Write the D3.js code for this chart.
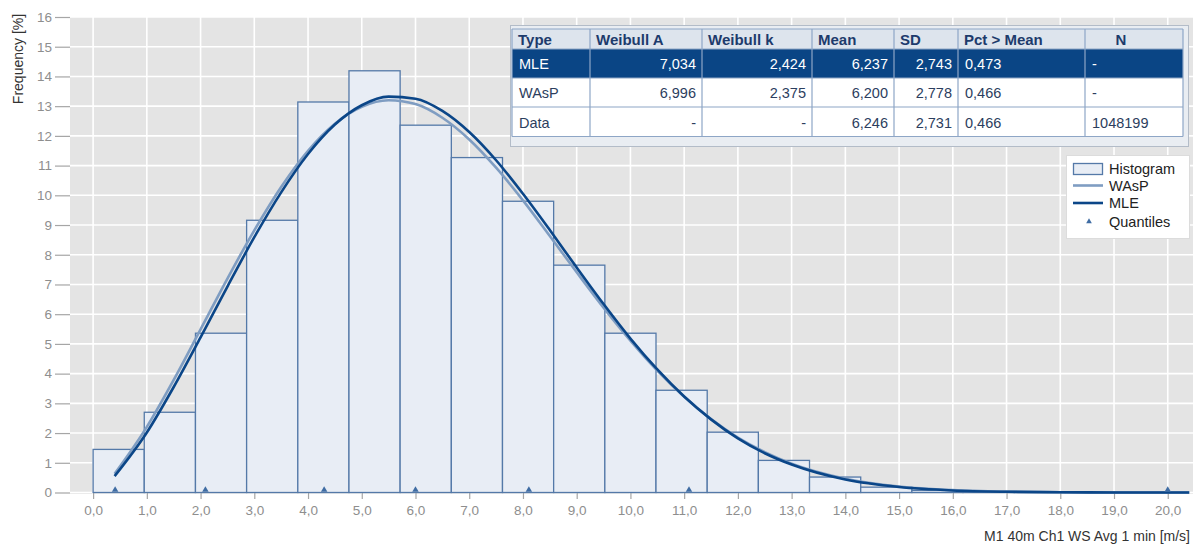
<!DOCTYPE html>
<html>
<head>
<meta charset="utf-8">
<script src="https://cdn.jsdelivr.net/npm/d3@7"></script>
<style>
  html, body { margin: 0; padding: 0; background: #fff; }
  svg { display: block; font-family: "Liberation Sans", Arial, sans-serif; }
</style>
</head>
<body>
<svg id="chart" width="1200" height="545"></svg>
<script>
// ---------------- DATA ----------------
const binEdges = [0, 0.952, 1.905, 2.857, 3.810, 4.762, 5.714, 6.667, 7.619, 8.571, 9.524,
  10.476, 11.429, 12.381, 13.333, 14.286, 15.238, 16.190, 17.143, 18.095, 19.048, 20.0];
const histValues = [1.45, 2.70, 5.36, 9.16, 13.14, 14.19, 12.36, 11.27, 9.80, 7.65, 5.36,
  3.44, 2.03, 1.08, 0.52, 0.18, 0.07, 0.03, 0.012, 0.005, 0.002];

const curveX = [0.4, 1, 1.5, 2, 2.5, 3, 3.5, 4, 4.5, 5, 5.5, 6, 6.5, 7, 7.5, 8, 8.5, 9, 9.5, 10,
  10.5, 11, 11.5, 12, 12.5, 13, 14, 15, 16, 17, 18, 19, 20, 20.4];
const mleValues = [0.55, 2.02, 3.55, 5.22, 6.93, 8.59, 10.10, 11.39, 12.38, 13.03, 13.32, 13.25,
  12.84, 12.13, 11.18, 10.05, 8.83, 7.57, 6.34, 5.18, 4.14, 3.23, 2.46, 1.82, 1.32, 0.94,
  0.435, 0.183, 0.069, 0.024, 0.007, 0.002, 0.0005, 0.0003];
const waspValues = [0.63, 2.21, 3.79, 5.49, 7.20, 8.82, 10.28, 11.50, 12.41, 12.98, 13.20, 13.07,
  12.61, 11.88, 10.93, 9.83, 8.63, 7.41, 6.22, 5.11, 4.10, 3.22, 2.47, 1.85, 1.36, 0.97,
  0.465, 0.203, 0.081, 0.029, 0.0095, 0.0028, 0.0008, 0.0005];

const quantiles = [0.41, 2.09, 4.30, 6.00, 8.11, 11.09, 20.0];

const xTicks = d3.range(0, 21);
const yTicks = d3.range(0, 17);

const tableHeaders = ["Type", "Weibull A", "Weibull k", "Mean", "SD", "Pct > Mean", "N"];
const tableTypes = ["MLE", "WAsP", "Data"];
const tableWeibullA = ["7,034", "6,996", "-"];
const tableWeibullK = ["2,424", "2,375", "-"];
const tableMean = ["6,237", "6,200", "6,246"];
const tableSD = ["2,743", "2,778", "2,731"];
const tablePct = ["0,473", "0,466", "0,466"];
const tableN = ["-", "-", "1048199"];

const legendLabels = ["Histogram", "WAsP", "MLE", "Quantiles"];

const xTitle = "M1 40m Ch1 WS Avg 1 min [m/s]";
const yTitle = "Frequency [%]";

// ---------------- LAYOUT ----------------
const svg = d3.select("#chart");
const plot = { left: 70, right: 1193, top: 17, bottom: 494 };
const x = d3.scaleLinear().domain([-0.43, 20.47]).range([plot.left, plot.right]);
const y = d3.scaleLinear().domain([0, 16]).range([492.5, 17]);
const fmtX = v => d3.format(".1f")(v).replace(".", ",");

const C = {
  bg: "#e4e4e4", grid: "#ffffff", barFill: "#e8edf5", barStroke: "#5479a8",
  mle: "#0b4688", wasp: "#7f9dc2", quant: "#3f6ca3", tick: "#a6a6a6", tickText: "#8e8e8e"
};

svg.append("rect").attr("width", 1200).attr("height", 545).attr("fill", "#fff");

// plot background
svg.append("rect").attr("x", plot.left).attr("y", plot.top)
  .attr("width", plot.right - plot.left).attr("height", plot.bottom - plot.top).attr("fill", C.bg);

svg.append("defs").append("clipPath").attr("id", "clip")
  .append("rect").attr("x", plot.left).attr("y", plot.top - 2)
  .attr("width", plot.right - plot.left).attr("height", plot.bottom - plot.top + 2);

// grid
const g = svg.append("g");
g.selectAll("line.vg").data(xTicks).join("line")
  .attr("x1", d => x(d)).attr("x2", d => x(d)).attr("y1", plot.top).attr("y2", plot.bottom)
  .attr("stroke", C.grid).attr("stroke-width", 1.6);
g.selectAll("line.hg").data(yTicks).join("line")
  .attr("x1", plot.left).attr("x2", plot.right).attr("y1", d => y(d)).attr("y2", d => y(d))
  .attr("stroke", C.grid).attr("stroke-width", 1.6);

// y axis
const yAxis = d3.axisLeft(y).tickValues(yTicks).tickSize(15).tickPadding(3).tickFormat(d3.format("d"));
const ya = svg.append("g").attr("transform", `translate(${plot.left},0)`).call(yAxis);
ya.select(".domain").remove();
ya.selectAll(".tick line").attr("stroke", C.tick).attr("stroke-width", 1.2);
ya.selectAll(".tick text").attr("fill", C.tickText).attr("font-size", 13.5)
  .attr("font-family", "Liberation Sans, Arial, sans-serif");

// x axis
const xAxis = d3.axisBottom(x).tickValues(xTicks).tickSize(6).tickPadding(6).tickFormat(fmtX);
const xa = svg.append("g").attr("transform", `translate(0,${plot.bottom - 1})`).call(xAxis);
xa.select(".domain").remove();
xa.selectAll(".tick line").attr("stroke", C.tick).attr("stroke-width", 1.2);
xa.selectAll(".tick text").attr("fill", C.tickText).attr("font-size", 13.5)
  .attr("font-family", "Liberation Sans, Arial, sans-serif");

// histogram bars
const bars = histValues.map((v, i) => ({ x0: binEdges[i], x1: binEdges[i + 1], v }));
svg.append("g").selectAll("rect").data(bars).join("rect")
  .attr("x", d => x(d.x0)).attr("width", d => x(d.x1) - x(d.x0))
  .attr("y", d => y(d.v)).attr("height", d => y(0) - y(d.v))
  .attr("fill", C.barFill).attr("stroke", C.barStroke).attr("stroke-width", 1.3);

// curves
const line = d3.line().x(d => x(d[0])).y(d => y(d[1])).curve(d3.curveMonotoneX);
const curves = svg.append("g").attr("clip-path", "url(#clip)");
curves.append("path").datum(curveX.map((d, i) => [d, waspValues[i]]))
  .attr("d", line).attr("fill", "none").attr("stroke", C.wasp).attr("stroke-width", 2.6);
curves.append("path").datum(curveX.map((d, i) => [d, mleValues[i]]))
  .attr("d", line).attr("fill", "none").attr("stroke", C.mle).attr("stroke-width", 2.6);

// quantile markers
const tri = d3.symbol().type(d3.symbolTriangle).size(18);
svg.append("g").selectAll("path").data(quantiles).join("path")
  .attr("d", tri).attr("transform", d => `translate(${x(d)},${y(0) - 2.5})`)
  .attr("fill", C.quant);

// axis titles
svg.append("text").attr("x", 1190).attr("y", 541).attr("text-anchor", "end")
  .attr("font-size", 14).attr("fill", "#333").text(xTitle);
svg.append("text").attr("transform", "translate(23,59) rotate(-90)").attr("text-anchor", "middle")
  .attr("font-size", 14).attr("fill", "#333").text(yTitle);

// ---------------- TABLE ----------------
const tbl = svg.append("g");
tbl.append("rect").attr("x", 510.5).attr("y", 25.5).attr("width", 678).attr("height", 121)
  .attr("fill", "#e9edf2").attr("stroke", "#b3bcc8").attr("stroke-width", 1);
const colX = [512, 590, 702, 812, 894, 958, 1085, 1183];
const rowY = [29, 49, 78, 107, 136.5];
const cols = [tableTypes, tableWeibullA, tableWeibullK, tableMean, tableSD, tablePct, tableN];
const align = ["start", "end", "end", "end", "end", "start", "start"];

// header
tbl.append("rect").attr("x", colX[0]).attr("y", rowY[0]).attr("width", colX[7] - colX[0])
  .attr("height", rowY[1] - rowY[0]).attr("fill", "#dde4ed");
// rows bg
tableTypes.forEach((t, r) => {
  tbl.append("rect").attr("x", colX[0]).attr("y", rowY[r + 1]).attr("width", colX[7] - colX[0])
    .attr("height", rowY[r + 2] - rowY[r + 1]).attr("fill", r === 0 ? "#0a4585" : "#ffffff");
});
// grid lines
colX.forEach(cx => tbl.append("line").attr("x1", cx).attr("x2", cx).attr("y1", rowY[0]).attr("y2", rowY[4])
  .attr("stroke", "#8ea6c6").attr("stroke-width", 1.2));
rowY.forEach(ry => tbl.append("line").attr("x1", colX[0]).attr("x2", colX[7]).attr("y1", ry).attr("y2", ry)
  .attr("stroke", "#8ea6c6").attr("stroke-width", 1.2));

tableHeaders.forEach((h, c) => {
  const centered = c === 6;
  tbl.append("text")
    .attr("x", centered ? 1121 : colX[c] + 6)
    .attr("y", 45).attr("text-anchor", centered ? "middle" : "start")
    .attr("font-size", 15).attr("font-weight", "bold").attr("fill", "#1d3b6c").text(h);
});
const baseY = [69, 98, 127.5];
cols.forEach((arr, c) => {
  arr.forEach((v, r) => {
    const xx = align[c] === "end" ? colX[c + 1] - 6 : colX[c] + 7;
    tbl.append("text").attr("x", xx).attr("y", baseY[r]).attr("text-anchor", align[c])
      .attr("font-size", 14.5).attr("fill", r === 0 ? "#ffffff" : "#2c3e5e").text(v);
  });
});

// ---------------- LEGEND ----------------
const lg = svg.append("g");
lg.append("rect").attr("x", 1066.5).attr("y", 155.5).attr("width", 123).attr("height", 83)
  .attr("fill", "#ffffff").attr("stroke", "#dcdcdc");
const ly = [168.5, 185.5, 203, 221.5];
lg.append("rect").attr("x", 1073.5).attr("y", 163.5).attr("width", 29).attr("height", 11)
  .attr("fill", C.barFill).attr("stroke", C.barStroke).attr("stroke-width", 1.3);
lg.append("line").attr("x1", 1073).attr("x2", 1103).attr("y1", ly[1]).attr("y2", ly[1])
  .attr("stroke", C.wasp).attr("stroke-width", 2.6);
lg.append("line").attr("x1", 1073).attr("x2", 1103).attr("y1", ly[2]).attr("y2", ly[2])
  .attr("stroke", C.mle).attr("stroke-width", 2.6);
lg.append("path").attr("d", d3.symbol().type(d3.symbolTriangle).size(14))
  .attr("transform", `translate(1089,${ly[3]})`).attr("fill", C.quant);
legendLabels.forEach((t, i) => {
  lg.append("text").attr("x", 1109).attr("y", ly[i] + 5).attr("font-size", 14.5)
    .attr("fill", "#222").text(t);
});
</script>
</body>
</html>
